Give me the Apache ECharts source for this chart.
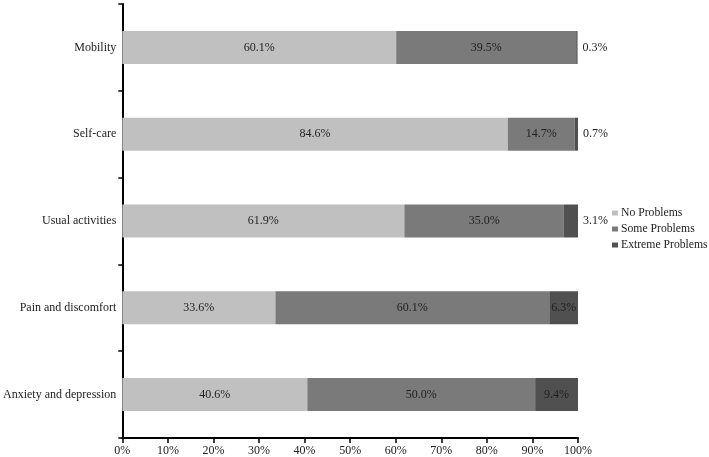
<!DOCTYPE html>
<html>
<head>
<meta charset="utf-8">
<script src="https://cdn.jsdelivr.net/npm/echarts@6/dist/echarts.min.js"></script>
<style>html,body{margin:0;padding:0;background:#fff}#c{width:709px;height:457px}</style>
</head>
<body>
<div id="c"></div>
<script>
var categories = ['Mobility', 'Self-care', 'Usual activities', 'Pain and discomfort', 'Anxiety and depression'];
var noProblems = [60.1, 84.6, 61.9, 33.6, 40.6];
var someProblems = [39.5, 14.7, 35.0, 60.1, 50.0];
var extremeProblems = [0.3, 0.7, 3.1, 6.3, 9.4];
var xTicks = [0, 10, 20, 30, 40, 50, 60, 70, 80, 90, 100];

var FONT = '"Liberation Serif", "DejaVu Serif", serif';
var chart = echarts.init(document.getElementById('c'));
var fmt = function (p) { return p.value.toFixed(1) + '%'; };
var baseLabel = { show: true, position: 'inside', formatter: fmt, fontFamily: FONT, fontSize: 12, color: '#222' };

chart.setOption({
  animation: false,
  textStyle: { fontFamily: FONT },
  grid: { left: 117, top: 4, width: 461, height: 435, containLabel: false },
  legend: {
    orient: 'vertical', left: 611, top: 206,
    itemWidth: 6, itemHeight: 5, itemGap: 4, padding: 1,
    icon: 'rect',
    textStyle: { fontFamily: FONT, fontSize: 11.7, color: '#222', padding: [0, 0, 0, -2] },
    data: ['No Problems', 'Some Problems', 'Extreme Problems']
  },
  xAxis: {
    type: 'value', min: xTicks[0], max: xTicks[xTicks.length - 1], interval: 10,
    axisLine: { show: true, lineStyle: { color: '#000', width: 2 } },
    axisTick: { show: true, length: 5, lineStyle: { color: '#000', width: 1.5 } },
    splitLine: { show: false },
    axisLabel: { formatter: '{value}%', fontFamily: FONT, fontSize: 12, color: '#222', margin: 7 }
  },
  yAxis: {
    type: 'category', data: categories, inverse: true,
    axisLine: { show: true, lineStyle: { color: '#000', width: 2 } },
    axisTick: { show: true, length: 4, lineStyle: { color: '#000', width: 1.5 } },
    axisLabel: { fontFamily: FONT, fontSize: 12, color: '#222', margin: 6 }
  },
  series: [
    { name: 'No Problems', type: 'bar', stack: 'a', barWidth: 33, itemStyle: { color: '#c0c0c0' },
      label: baseLabel, data: noProblems },
    { name: 'Some Problems', type: 'bar', stack: 'a', barWidth: 33, itemStyle: { color: '#7a7a7a' },
      label: baseLabel, data: someProblems },
    { name: 'Extreme Problems', type: 'bar', stack: 'a', barWidth: 33, itemStyle: { color: '#505050' },
      label: baseLabel,
      data: extremeProblems.map(function (v) {
        return v < 5 ? { value: v, label: { position: 'right', distance: 5 } } : { value: v };
      }) }
  ]
});
</script>
</body>
</html>
